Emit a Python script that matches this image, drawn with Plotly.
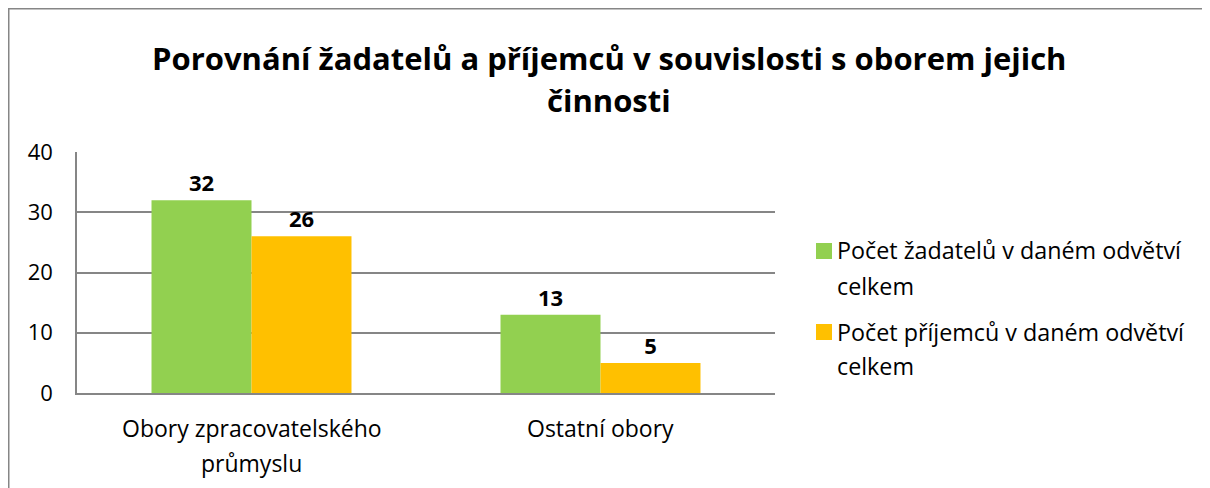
import plotly.graph_objects as go

categories = ["Obory zpracovatelského průmyslu", "Ostatní obory"]
category_lines = [["Obory zpracovatelského", "průmyslu"], ["Ostatní obory"]]
series_names = ["Počet žadatelů v daném odvětví celkem", "Počet příjemců v daném odvětví celkem"]
legend_lines = [["Počet žadatelů v daném odvětví", "celkem"], ["Počet příjemců v daném odvětví", "celkem"]]
title_lines = ["Porovnání žadatelů a příjemců v souvislosti s oborem jejich", "činnosti"]
zadatele = [32, 13]
prijemci = [26, 5]
colors = ["#92D050", "#FFC000"]

FONT = "Open Sans, sans-serif"
GRAY = "#868686"

# figure geometry (pixels inside the figure)
W, H = 1210, 488
L, R, T, B = 69, 443, 144, 103
PW, PH = W - L - R, H - T - B


def px(xf):
    return (xf - L) / PW


def py(yf):
    return (H - B - yf) / PH


fig = go.Figure()
for name, vals, col in zip(series_names, [zadatele, prijemci], colors):
    fig.add_trace(go.Bar(
        x=categories, y=vals, name=name, marker_color=col,
        marker_line_width=0,
        text=vals, texttemplate="<b>%{y}</b>", textposition="outside",
        textfont=dict(size=22, color="#000000", family=FONT),
        cliponaxis=False, showlegend=False,
    ))

fig.update_layout(
    width=W, height=H,
    margin=dict(l=L, r=R, t=T, b=B),
    paper_bgcolor="white", plot_bgcolor="white",
    barmode="group", bargap=0.427, bargroupgap=0,
    font=dict(family=FONT, size=22, color="#000000"),
    showlegend=False,
)
fig.update_xaxes(
    showline=True, linecolor=GRAY, linewidth=1.5,
    ticks="", showticklabels=False,
)
fig.update_yaxes(
    range=[0, 40], dtick=10, showgrid=True, gridcolor=GRAY, gridwidth=1.5,
    showline=True, linecolor=GRAY, linewidth=1.5, zeroline=False,
    ticks="", ticklabelstandoff=18,
    tickfont=dict(size=22, family=FONT, color="#000000"),
)

annotations = []
# title
for line, yf in zip(title_lines, [50, 92]):
    annotations.append(dict(
        text=f"<b>{line}</b>", xref="paper", yref="paper", x=px(601), y=py(yf),
        xanchor="center", yanchor="middle", showarrow=False,
        font=dict(size=31, family=FONT, color="#000000"),
    ))
# category labels
for cat, lines in zip(categories, category_lines):
    for line, yf in zip(lines, [420, 455]):
        annotations.append(dict(
            text=line, xref="x", yref="paper", x=cat, y=py(yf),
            xanchor="center", yanchor="middle", showarrow=False,
            font=dict(size=23, family=FONT, color="#000000"),
        ))
# legend
shapes = []
legend_rows = [(235, [242, 278]), (316, [324, 358])]
for (sq_top, line_ys), lines, col in zip(legend_rows, legend_lines, colors):
    shapes.append(dict(
        type="rect", xref="paper", yref="paper",
        x0=px(808), x1=px(824), y0=py(sq_top + 16), y1=py(sq_top),
        fillcolor=col, line=dict(width=0),
    ))
    for line, yf in zip(lines, line_ys):
        annotations.append(dict(
            text=line, xref="paper", yref="paper", x=px(827), y=py(yf),
            xanchor="left", yanchor="middle", showarrow=False,
            font=dict(size=23.3, family=FONT, color="#000000"),
        ))
# outer chart border
shapes.append(dict(
    type="rect", xref="paper", yref="paper",
    x0=px(0.75), x1=px(W + 20), y0=py(H + 20), y1=py(0.75),
    line=dict(color=GRAY, width=1.5), fillcolor="rgba(0,0,0,0)", layer="below",
))

fig.update_layout(annotations=annotations, shapes=shapes)
fig.write_html("out.html")
